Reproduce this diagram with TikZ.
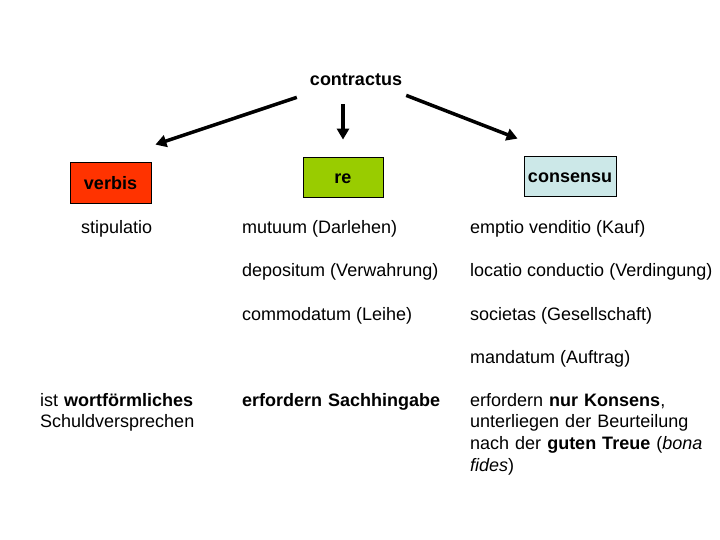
\documentclass[tikz,border=0pt]{standalone}
\usepackage{fontspec}
\setmainfont{Liberation Sans}
\usepackage{xcolor}
\usetikzlibrary{calc, positioning, arrows.meta}

\definecolor{verbisred}{HTML}{FF3300}
\definecolor{regreen}{HTML}{99CC00}
\definecolor{consblue}{HTML}{CCE8E8}
\newcommand{\slidefont}{\fontsize{18bp}{21.7bp}\selectfont}

\tikzset{
	kind/.style={draw=black, line width=0.8bp, font=\slidefont\bfseries, minimum height=40bp, text height=13.5bp, text depth=0pt, inner sep=0pt},
	item/.style={anchor=base west, inner sep=0pt, font=\slidefont},
	note/.style={anchor=base west, inner sep=0pt, font=\slidefont, align=left, text width=250bp},
	arr/.style={-{Triangle[length=11bp,width=12bp]}, line width=3.5bp}
}

\begin{document}
\begin{tikzpicture}[x=1bp, y=-1bp]

		\useasboundingbox (0,0) rectangle (720,540);

		% top node and the three kinds %
		\node[anchor=base, inner sep=0pt, font=\slidefont\bfseries] (contractus) at (356,86) {contractus};
		\node[kind, fill=verbisred, minimum width=81bp, minimum height=41bp] (verbis) at (110.5,182.5) {verbis};
		\node[kind, fill=regreen, minimum width=80bp] (re) at (343,177) {re};
		\node[kind, fill=consblue, minimum width=92bp] (consensu) at (570,176) {consensu};

		% arrows %
		\draw[arr] ([shift={(-13,11)}]contractus.south west) -- ([shift={(4,-17)}]verbis.north east);
		\draw[arr] ($(contractus.south -| re.north)+(0,18)$) -- ([shift={(0,-17)}]re.north);
		\draw[arr] ([shift={(4,9)}]contractus.south east) -- ([shift={(-6,-17)}]consensu.north west);

		% examples %
		\node[item] (stipulatio) at (81,234) {stipulatio};
		\node[item] (mutuum) at (242,234) {mutuum (Darlehen)};
		\node[item] (depositum) at (242,277) {depositum (Verwahrung)};
		\node[item] (commodatum) at (242,320) {commodatum (Leihe)};
		\node[item] (emptio) at (470,234) {emptio venditio (Kauf)};
		\node[item] (locatio) at (470,277) {locatio conductio (Verdingung)};
		\node[item] (societas) at (470,320) {societas (Gesellschaft)};
		\node[item] (mandatum) at (470,363) {mandatum (Auftrag)};

		% notes %
		\node[note] (verbisnote) at (40,406) {ist \textbf{wortförmliches}\\Schuldversprechen};
		\node[note] (renote) at (242,406) {\textbf{erfordern Sachhingabe}};
		\node[note] (consnote) at (470,406) {erfordern \textbf{nur Konsens},\\unterliegen der Beurteilung\\nach der \textbf{guten Treue} (\textit{bona}\\\textit{fides})};
\end{tikzpicture}
\end{document}
